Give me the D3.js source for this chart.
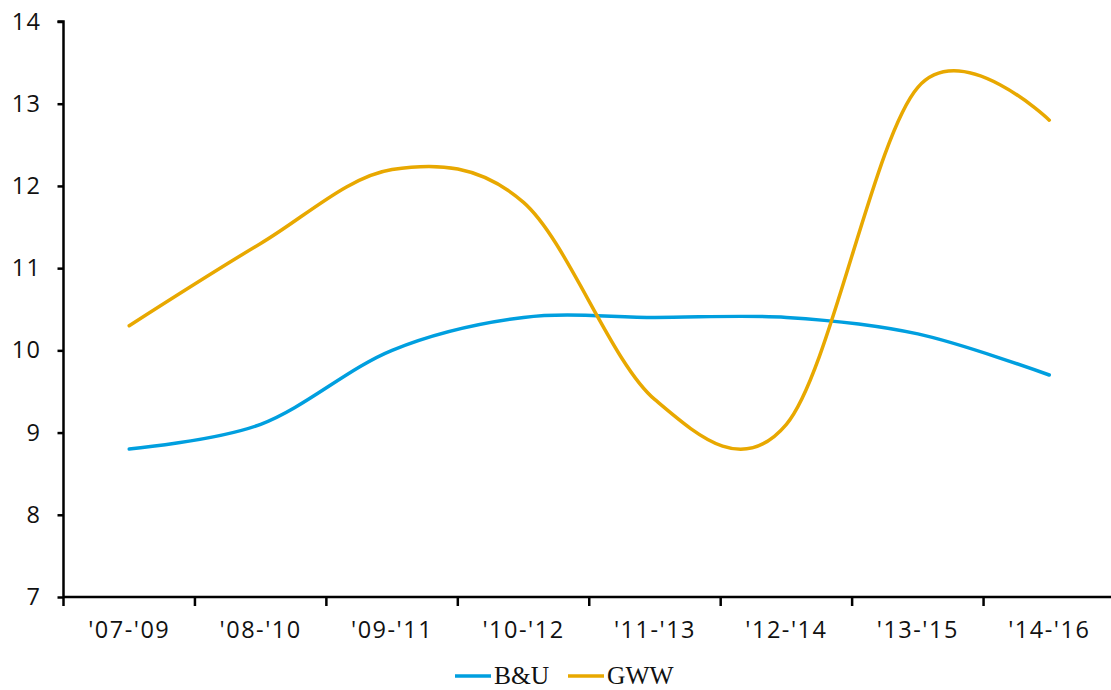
<!DOCTYPE html>
<html><head><meta charset="utf-8">
<script src="https://cdn.jsdelivr.net/npm/d3@7"></script>
<style>body{margin:0;background:#fff}</style>
</head><body>
<svg id="c" width="1111" height="690"></svg>
<script>
const categories = ["'07-'09","'08-'10","'09-'11","'10-'12","'11-'13","'12-'14","'13-'15","'14-'16"];
const seriesNames = ["B&U","GWW"];
const buValues = [8.8, 9.1, 10.0, 10.4, 10.4, 10.4, 10.2, 9.7];
const gwwValues = [10.3, 11.3, 12.2, 11.8, 9.4, 9.1, 13.2, 12.8];
const yTicks = [7,8,9,10,11,12,13,14];
const colors = ["#009FDF","#E8A800"];

const svg = d3.select("#c");
const x = d3.scaleBand().domain(categories).range([63.5, 1115]);
const y = d3.scaleLinear().domain([7,14]).range([597, 21.5]);

const tickFont = "'Open Sans', sans-serif";

// y axis
const ya = svg.append("g").attr("transform","translate(63.5,0)")
  .call(d3.axisLeft(y).tickValues(yTicks).tickSize(6).tickPadding(16).tickFormat(d3.format("d")));
ya.select(".domain").attr("stroke","#000").attr("stroke-width",2.5).attr("d","M-6,21.5H0V597");
ya.selectAll(".tick line").attr("stroke","#000").attr("stroke-width",2.5);
ya.selectAll(".tick text").attr("fill","#111").style("font-family",tickFont).style("font-size","23.5px").style("letter-spacing","1.5px");

// x axis
const xa = svg.append("g").attr("transform","translate(0,597)")
  .call(d3.axisBottom(x).tickSize(0).tickPadding(24));
xa.select(".domain").attr("stroke","#000").attr("stroke-width",2.5).attr("d","M63.5,0H1115");
xa.selectAll(".tick text").attr("fill","#111").style("font-family",tickFont).style("font-size","23.5px").style("letter-spacing","1.5px");
// band boundary ticks
const bounds = categories.map(c => x(c)).concat([x.range()[1]]);
svg.append("g").selectAll("line").data(bounds).join("line")
  .attr("x1", d=>d).attr("x2", d=>d).attr("y1",597).attr("y2",606)
  .attr("stroke","#000").attr("stroke-width",2.5);

// lines
const line = d3.line()
  .x((d,i)=> x(categories[i]) + x.bandwidth()/2)
  .y(d=> y(d))
  .curve(d3.curveCardinal.tension(0));
[buValues, gwwValues].forEach((vals, k) => {
  svg.append("path").datum(vals).attr("d", line)
    .attr("fill","none").attr("stroke", colors[k]).attr("stroke-width",3.5)
    .attr("stroke-linecap","round");
});

// legend
const legFont = "'Liberation Serif', serif";
const legX = [455, 568];
seriesNames.forEach((n,k) => {
  const g = svg.append("g");
  g.append("line").attr("x1",legX[k]).attr("x2",legX[k]+36).attr("y1",676).attr("y2",676)
    .attr("stroke",colors[k]).attr("stroke-width",3.5);
  g.append("text").attr("x",legX[k]+39).attr("y",684).text(n)
    .attr("fill","#111").style("font-family",legFont).style("font-size","25.5px");
});
</script>
</body></html>
